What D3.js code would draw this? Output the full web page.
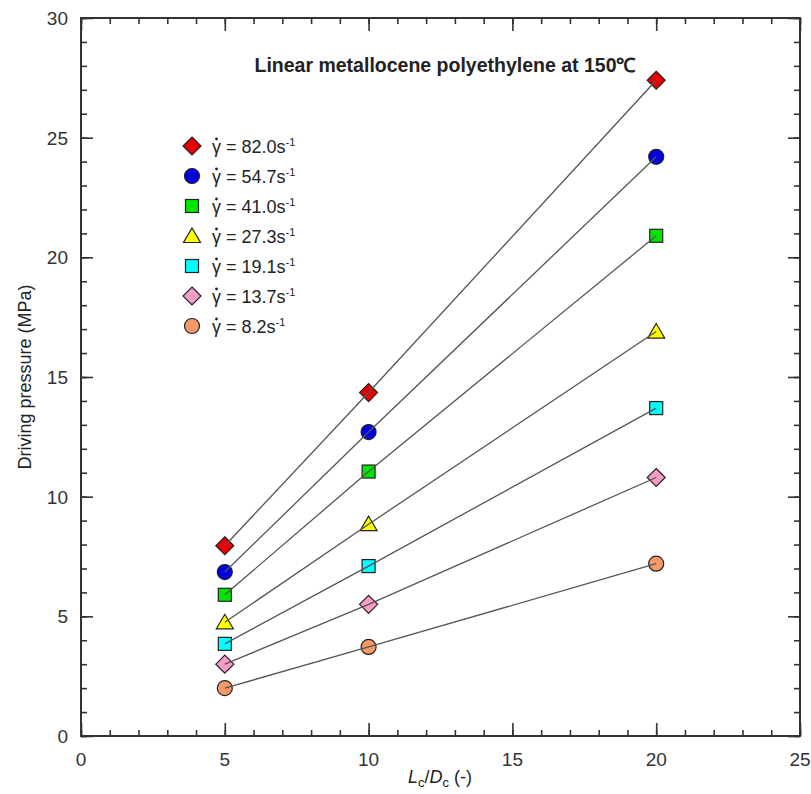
<!DOCTYPE html>
<html>
<head>
<meta charset="utf-8">
<script src="https://cdn.jsdelivr.net/npm/d3@7"></script>
<style>
  body { margin: 0; background: #fff; }
  text { font-family: Arial, "Liberation Sans", sans-serif; }
</style>
</head>
<body>
<div id="chart"></div>
<script>
// data
var lcdc = [5, 10, 20];
var rates = ["82.0", "54.7", "41.0", "27.3", "19.1", "13.7", "8.2"];
var p820 = [7.95, 14.35, 27.4];
var p547 = [6.85, 12.7, 24.2];
var p410 = [5.9, 11.05, 20.9];
var p273 = [4.75, 8.85, 16.9];
var p191 = [3.85, 7.1, 13.7];
var p137 = [3.0, 5.5, 10.8];
var p082 = [2.0, 3.72, 7.2];
var seriesVals = [p820, p547, p410, p273, p191, p137, p082];
var shapes = ["diamond", "circle", "square", "triangle", "square", "diamond", "circle"];
var colors = ["#e80000", "#0000e0", "#00e600", "#ffff00", "#00ffff", "#f59ccb", "#f5996a"];
var xTicks = [0, 5, 10, 15, 20, 25];
var yTicks = [0, 5, 10, 15, 20, 25, 30];

var width = 811, height = 794;
var margin = {top: 18, right: 11, bottom: 58, left: 81};

var svg = d3.select("#chart").append("svg")
  .attr("width", width)
  .attr("height", height);

var x = d3.scaleLinear().domain([0, 25]).range([margin.left, width - margin.right]);
var y = d3.scaleLinear().domain([0, 30]).range([height - margin.bottom, margin.top]);

var axisCol = "#333";

// minor ticks every 1 unit, major every 5, inward on all four sides
var xMinor = d3.range(0, 26, 1), yMinor = d3.range(0, 31, 1);

function tickAxis(axisFn, scale, values, size) {
  return axisFn(scale).tickValues(values).tickSize(size).tickFormat("");
}

var x0 = y(0), x1 = y(30), yl = x(0), yr = x(25);

var gb = svg.append("g").attr("transform", "translate(0," + x0 + ")");
gb.call(tickAxis(d3.axisTop, x, xMinor, 6));
gb.append("g").call(tickAxis(d3.axisTop, x, xTicks, 13));

var gt = svg.append("g").attr("transform", "translate(0," + x1 + ")");
gt.call(tickAxis(d3.axisBottom, x, xMinor, 6));
gt.append("g").call(tickAxis(d3.axisBottom, x, xTicks, 13));

var gl = svg.append("g").attr("transform", "translate(" + yl + ",0)");
gl.call(tickAxis(d3.axisRight, y, yMinor, 6));
gl.append("g").call(tickAxis(d3.axisRight, y, yTicks, 12));

var gr = svg.append("g").attr("transform", "translate(" + yr + ",0)");
gr.call(tickAxis(d3.axisLeft, y, yMinor, 6));
gr.append("g").call(tickAxis(d3.axisLeft, y, yTicks, 12));

svg.selectAll(".domain").remove();
svg.selectAll(".tick line").attr("stroke", axisCol).attr("stroke-width", 1.6);

// frame
svg.append("rect")
  .attr("x", yl).attr("y", x1)
  .attr("width", yr - yl).attr("height", x0 - x1)
  .attr("fill", "none").attr("stroke", axisCol).attr("stroke-width", 2);

// tick labels
svg.selectAll(".xlab").data(xTicks).enter().append("text")
  .attr("x", function(d) { return x(d); })
  .attr("y", x0 + 30)
  .attr("text-anchor", "middle")
  .attr("font-size", 19)
  .attr("fill", "#333")
  .text(function(d) { return d; });

svg.selectAll(".ylab").data(yTicks).enter().append("text")
  .attr("x", yl - 13)
  .attr("y", function(d) { return y(d) + 7; })
  .attr("text-anchor", "end")
  .attr("font-size", 19)
  .attr("fill", "#333")
  .text(function(d) { return d; });

// axis titles
var xt = svg.append("text")
  .attr("x", 440).attr("y", 783)
  .attr("text-anchor", "middle")
  .attr("font-size", 18)
  .attr("fill", "#222");
xt.append("tspan").attr("font-style", "italic").text("L");
xt.append("tspan").attr("font-size", 13).attr("dy", 4).text("c");
xt.append("tspan").attr("dy", -4).text("/");
xt.append("tspan").attr("font-style", "italic").text("D");
xt.append("tspan").attr("font-size", 13).attr("dy", 4).text("c");
xt.append("tspan").attr("dy", -4).text(" (-)");

svg.append("text")
  .attr("transform", "translate(31," + y(15) + ") rotate(-90)")
  .attr("text-anchor", "middle")
  .attr("font-size", 18)
  .attr("fill", "#222")
  .text("Driving pressure (MPa)");

// chart title
svg.append("text")
  .attr("x", 445).attr("y", 72)
  .attr("text-anchor", "middle")
  .attr("font-size", 19.5)
  .attr("font-weight", "bold")
  .attr("fill", "#222")
  .text("Linear metallocene polyethylene at 150\u2103");

// marker drawing
function marker(g, shape, color) {
  if (shape === "circle") {
    g.append("circle").attr("r", 7.5);
  } else if (shape === "square") {
    g.append("rect").attr("x", -6.5).attr("y", -6.5).attr("width", 13).attr("height", 13);
  } else if (shape === "diamond") {
    g.append("path").attr("d", "M0,-9L9,0L0,9L-9,0Z");
  } else {
    g.append("path").attr("d", "M0,-8L8.5,6.5L-8.5,6.5Z");
  }
  g.selectAll("*").attr("fill", color).attr("stroke", "#222").attr("stroke-width", 1.2);
}

var line = d3.line()
  .x(function(d, i) { return x(lcdc[i]); })
  .y(function(d) { return y(d); });

seriesVals.forEach(function(vals, s) {
  vals.forEach(function(v, i) {
    var g = svg.append("g").attr("transform", "translate(" + x(lcdc[i]) + "," + y(v) + ")");
    marker(g, shapes[s], colors[s]);
  });
});

// lines go over the markers, ending at their centres
seriesVals.forEach(function(vals) {
  svg.append("path")
    .attr("d", line(vals))
    .attr("fill", "none")
    .attr("stroke", "#555")
    .attr("stroke-width", 1.3);
});

// legend
rates.forEach(function(r, i) {
  var ly = 146 + i * 30;
  var g = svg.append("g").attr("transform", "translate(192," + ly + ")");
  marker(g, shapes[i], colors[i]);
  var t = svg.append("text")
    .attr("x", 212).attr("y", ly + 7)
    .attr("font-size", 18)
    .attr("fill", "#222");
  t.append("tspan").text("\u03b3 = " + r + "s");
  t.append("tspan").attr("font-size", 11).attr("dy", -7).text("-1");
  // dot over gamma
  svg.append("circle")
    .attr("cx", 216.5).attr("cy", ly - 7)
    .attr("r", 1.4)
    .attr("fill", "#222");
});
</script>
</body>
</html>
